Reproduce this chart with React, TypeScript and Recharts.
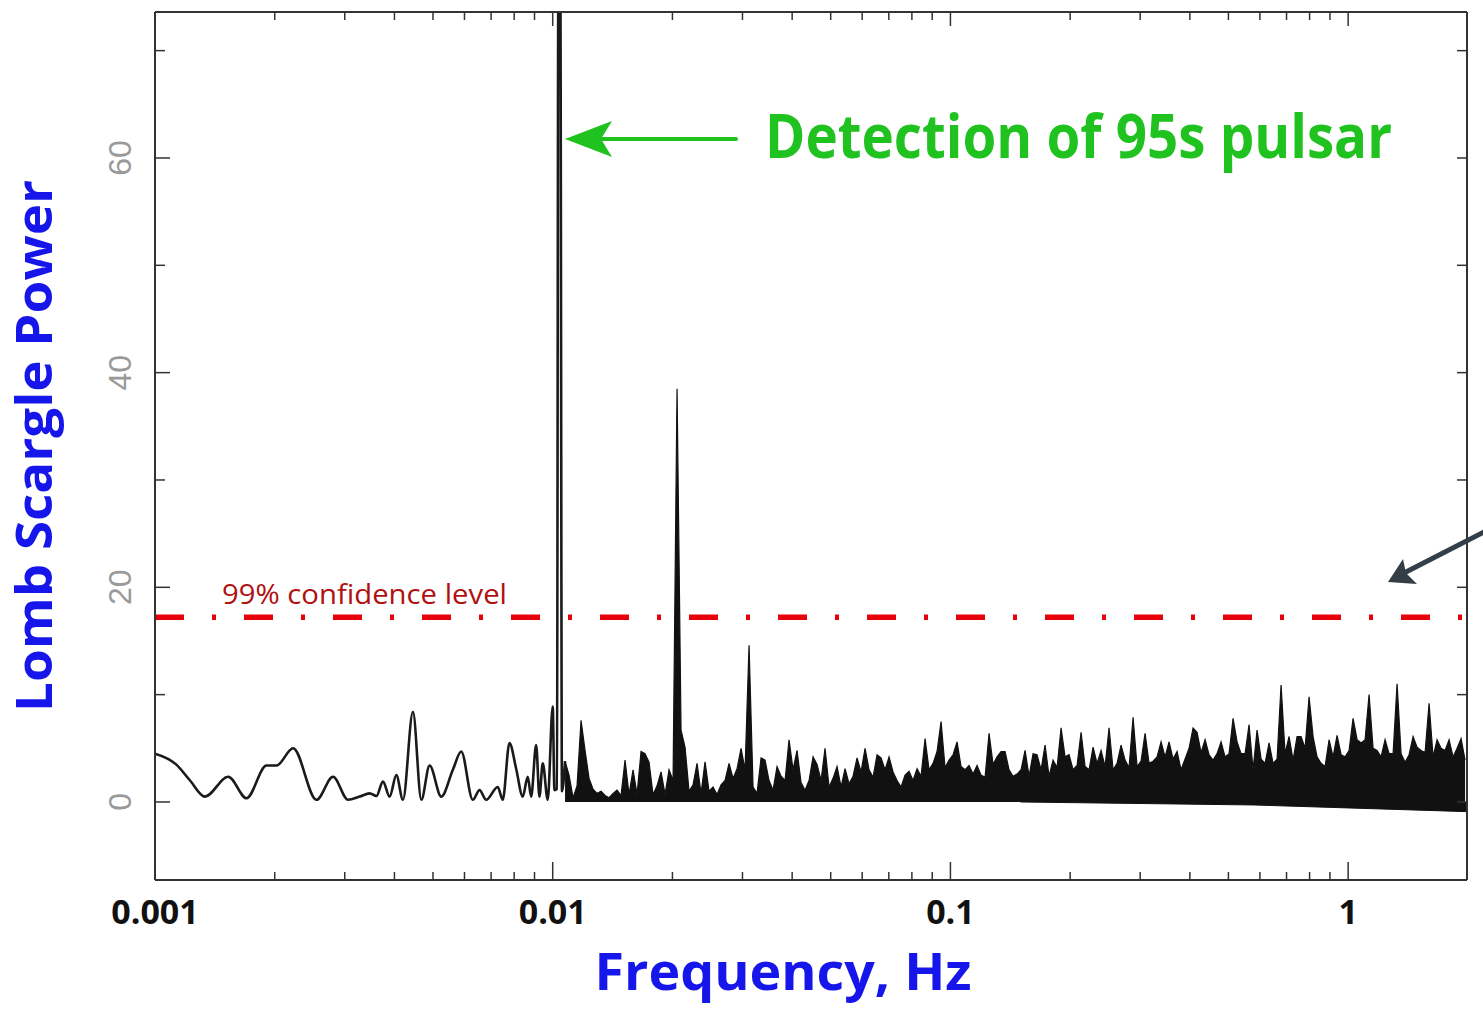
import React from 'react'
import { ComposedChart, Line, Area, XAxis, YAxis, ReferenceLine } from 'recharts'

const W = 1483
const H = 1009

// axis ticks (log frequency axis, minor ticks included)
const X_TICKS = [
  0.001, 0.002, 0.003, 0.004, 0.005, 0.006, 0.007, 0.008, 0.009,
  0.01, 0.02, 0.03, 0.04, 0.05, 0.06, 0.07, 0.08, 0.09,
  0.1, 0.2, 0.3, 0.4, 0.5, 0.6, 0.7, 0.8, 0.9,
  1,
]
const X_MAJOR = [0.001, 0.01, 0.1, 1]
const Y_TICKS = [0, 10, 20, 30, 40, 50, 60, 70]
const Y_LABELED = [0, 20, 40, 60]

// low frequency part of the periodogram [Hz, power], incl. the 95 s peak
const LOW_FREQ = [
  [0.001, 4.5], [0.00113, 3.5], [0.001225, 2.0], [0.001335, 0.5], [0.001528, 2.35],
  [0.001699, 0.35], [0.001907, 3.4], [0.002021, 3.4], [0.002225, 5.0], [0.002547, 0.2],
  [0.002803, 2.35], [0.003058, 0.2], [0.003271, 0.5], [0.003466, 0.8], [0.003603, 0.55],
  [0.003743, 1.9], [0.00389, 0.5], [0.004044, 2.5], [0.004202, 0.2], [0.004452, 8.4],
  [0.004673, 0.2], [0.004903, 3.4], [0.005246, 0.5], [0.00561, 3.0], [0.005888, 4.7],
  [0.006297, 0.2], [0.006546, 1.1], [0.006804, 0.2], [0.007274, 1.4], [0.007488, 0.2],
  [0.007784, 5.5], [0.008092, 3.1], [0.008407, 0.5], [0.008653, 2.35], [0.008826, 0.5],
  [0.009085, 5.3], [0.009261, 0.5], [0.009439, 3.6], [0.009716, 0.2], [0.01, 8.9],
  [0.0101, 1.1], [0.01025, 1.2], [0.01033, 76], [0.01045, 76], [0.01055, 1.0],
  [0.01074, 3.8],
]

// dense part above the pulsar peak, read every 4 px along the log axis
const DENSE_START = 0.01074
const DENSE_END = 1.968
const DENSE_POWER = [
  3.8, 2.5, 0.4, 1.5, 7.6, 4.8, 2.2, 1.2, 0.8, 1.0,
  0.6, 0.4, 0.8, 1.1, 0.6, 3.9, 0.7, 3.0, 0.7, 4.7,
  4.5, 3.7, 0.7, 1.5, 2.8, 0.7, 3.0, 2.0, 38.5, 6.7,
  5.1, 1.0, 1.6, 3.6, 0.8, 3.75, 1.0, 1.4, 0.7, 1.6,
  2.0, 3.6, 2.2, 3.1, 5.0, 3.0, 14.6, 1.4, 0.8, 4.1,
  3.9, 2.0, 1.1, 3.3, 2.4, 2.0, 5.8, 3.0, 4.8, 1.8,
  1.1, 2.0, 4.2, 3.5, 2.0, 5.0, 1.4, 2.2, 3.3, 1.4,
  3.1, 1.7, 2.4, 4.1, 2.8, 5.0, 3.0, 2.3, 4.4, 4.1,
  3.0, 4.2, 2.8, 2.0, 1.4, 2.5, 2.85, 2.0, 3.1, 2.4,
  5.9, 3.0, 3.6, 4.7, 7.5, 3.2, 3.9, 4.4, 5.6, 3.3,
  3.0, 3.4, 2.6, 3.4, 2.5, 2.3, 6.4, 3.5, 4.2, 4.7,
  4.7, 3.0, 2.4, 2.6, 3.0, 4.8, 2.4, 4.5, 4.4, 3.0,
  5.3, 2.4, 3.9, 3.2, 6.9, 4.2, 4.4, 3.0, 3.4, 6.5,
  3.3, 3.0, 5.1, 3.6, 4.8, 3.3, 6.9, 3.0, 3.6, 5.3,
  3.9, 3.2, 7.9, 3.3, 3.8, 6.4, 3.6, 3.8, 4.2, 5.6,
  4.2, 5.6, 4.0, 4.7, 3.0, 4.0, 5.0, 6.9, 6.5, 4.6,
  5.8, 4.4, 3.9, 4.5, 5.6, 4.2, 4.5, 7.8, 5.6, 4.5,
  4.5, 7.2, 3.0, 6.7, 4.0, 3.6, 5.5, 3.6, 4.0, 10.9,
  4.5, 6.1, 3.9, 6.1, 6.1, 5.0, 9.8, 6.1, 4.2, 3.6,
  3.3, 5.8, 4.2, 6.2, 4.4, 4.2, 4.8, 7.8, 5.8, 5.5,
  5.8, 10.0, 5.0, 4.8, 4.2, 5.8, 4.5, 4.5, 11.0, 4.5,
  3.7, 4.4, 6.1, 5.1, 4.8, 4.6, 9.2, 4.2, 5.8, 5.0,
  4.8, 5.8, 4.2, 5.0, 5.9, 3.9,
]

// lower edge of the noise band sinks a little below zero at high frequency
const BASE_DIP = [[0.15, 0], [0.58, -0.28], [1.99, -0.9]]

const CONF_LEVEL = 17.2

const lowData = LOW_FREQ.map(([f, p]) => ({ f, p }))
const denseData = DENSE_POWER.map((p, i) => ({
  f: DENSE_START * Math.pow(DENSE_END / DENSE_START, i / (DENSE_POWER.length - 1)),
  p,
}))
const dipData = BASE_DIP.map(([f, p]) => ({ f, p }))

const AXIS = '#333'
const BLUE = '#1616ea'
const GREEN = '#1fc21f'
const COMIC = "'Open Sans', 'Noto Sans', sans-serif"

function BottomTick({ x, y, payload }: any) {
  const major = X_MAJOR.includes(payload.value)
  return (
    <g>
      <line x1={x} y1={y} x2={x} y2={y - (major ? 18 : 8)} stroke={AXIS} strokeWidth={1.5} />
      {major && (
        <text x={x} y={y + 44} textAnchor="middle" fontSize={34} fontWeight={700} fill="#111" fontFamily={COMIC}>
          {String(payload.value)}
        </text>
      )}
    </g>
  )
}

function TopTick({ x, y, payload }: any) {
  const major = X_MAJOR.includes(payload.value)
  return <line x1={x} y1={y} x2={x} y2={y + (major ? 14 : 8)} stroke={AXIS} strokeWidth={1.5} />
}

function LeftTick({ x, y, payload }: any) {
  const lab = Y_LABELED.includes(payload.value)
  return (
    <g>
      <line x1={x} y1={y} x2={x + (lab ? 15 : 10)} y2={y} stroke={AXIS} strokeWidth={1.5} />
      {lab && (
        <text transform={`translate(${x - 35},${y}) rotate(-90)`} textAnchor="middle" dominantBaseline="central"
          fontSize={32} fill="#999" fontFamily="'Liberation Sans', Arial, sans-serif">
          {payload.value}
        </text>
      )}
    </g>
  )
}

function RightTick({ x, y }: any) {
  return <line x1={x} y1={y} x2={x - 10} y2={y} stroke={AXIS} strokeWidth={1.5} />
}

export default function App() {
  const xProps = {
    type: 'number' as const, scale: 'log' as const, domain: [0.001, 1.99], allowDataOverflow: true,
    ticks: X_TICKS, interval: 0, tickSize: 0, tickMargin: 0, tickLine: false,
    axisLine: { stroke: AXIS, strokeWidth: 2 }, dataKey: 'f',
  }
  const yProps = {
    type: 'number' as const, domain: [-7.27, 73.6], allowDataOverflow: true,
    ticks: Y_TICKS, interval: 0, tickSize: 0, tickMargin: 0, tickLine: false,
    axisLine: { stroke: AXIS, strokeWidth: 2 },
  }
  return (
    <div style={{ position: 'absolute', left: 0, top: 0, width: W, height: H, background: '#fff', overflow: 'hidden' }}>
      <ComposedChart width={W} height={H} margin={{ top: 2, right: 6, bottom: 69, left: 95 }}>
        <XAxis xAxisId="bottom" orientation="bottom" height={60} tick={<BottomTick />} {...xProps} />
        <XAxis xAxisId="top" orientation="top" height={10} tick={<TopTick />} {...xProps} />
        <YAxis yAxisId="left" orientation="left" width={60} tick={<LeftTick />} {...yProps} />
        <YAxis yAxisId="right" orientation="right" width={10} tick={<RightTick />} {...yProps} />
        <Area xAxisId="bottom" yAxisId="left" data={dipData} dataKey="p" type="linear" baseValue={0}
          stroke="#111" strokeWidth={1} fill="#111" fillOpacity={1} dot={false} activeDot={false} isAnimationActive={false} />
        <Area xAxisId="bottom" yAxisId="left" data={denseData} dataKey="p" type="linear" baseValue={0}
          stroke="#111" strokeWidth={1.2} fill="#111" fillOpacity={1} dot={false} activeDot={false} isAnimationActive={false} />
        <Line xAxisId="bottom" yAxisId="left" data={lowData} dataKey="p" type="monotone"
          stroke="#1a1a1a" strokeWidth={2.6} dot={false} activeDot={false} isAnimationActive={false} />
        <ReferenceLine xAxisId="bottom" yAxisId="left" y={CONF_LEVEL} stroke="#e8000b" strokeWidth={5.5}
          strokeDasharray="29 28 4 28" />
      </ComposedChart>
      <svg width={W} height={H} style={{ position: 'absolute', left: 0, top: 0, pointerEvents: 'none' }}>
        <text transform="translate(52,446) rotate(-90)" textAnchor="middle" fontSize={50} fontWeight={700}
          fill={BLUE} fontFamily={COMIC} textLength={532} lengthAdjust="spacingAndGlyphs">
          Lomb Scargle Power
        </text>
        <text x={783} y={990} textAnchor="middle" fontSize={52} fontWeight={700} fill={BLUE} fontFamily={COMIC}
          textLength={377} lengthAdjust="spacingAndGlyphs">
          Frequency, Hz
        </text>
        <text x={222} y={604} fontSize={27} fill="#b01010" fontFamily={COMIC} textLength={285} lengthAdjust="spacingAndGlyphs">
          99% confidence level
        </text>
        <text x={765} y={158} fontSize={60} fontWeight={700} fill={GREEN} fontFamily={COMIC}
          textLength={627} lengthAdjust="spacingAndGlyphs">
          Detection of 95s pulsar
        </text>
        <line x1={602} y1={139} x2={736} y2={139} stroke={GREEN} strokeWidth={4} strokeLinecap="round" />
        <path d="M565,139 L612,121 L601,139 L612,157 Z" fill={GREEN} />
        <line x1={1486} y1={531} x2={1404} y2={573} stroke="#343e46" strokeWidth={5} />
        <path d="M1388,582 L1403,559 L1406,573 L1417,584 Z" fill="#343e46" />
      </svg>
    </div>
  )
}
